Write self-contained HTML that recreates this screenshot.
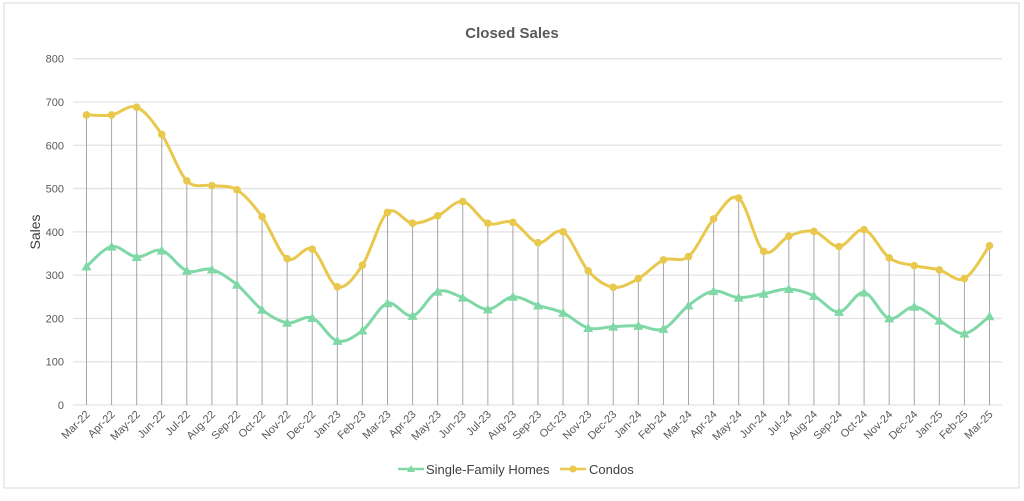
<!DOCTYPE html>
<html><head><meta charset="utf-8"><style>
body{margin:0;background:#fff;width:1024px;height:496px;overflow:hidden;font-family:"Liberation Sans",sans-serif}
</style></head><body>
<svg id="c" width="1024" height="496" xmlns="http://www.w3.org/2000/svg">
<rect x="4" y="3" width="1015" height="485" fill="#fff" stroke="#d9d9d9"/>
<text x="512" y="38" text-anchor="middle" font-size="15" font-weight="bold" fill="#595959">Closed Sales</text>
<text transform="translate(40,232) rotate(-90)" text-anchor="middle" font-size="14" fill="#404040">Sales</text>
<g id="grid"></g><g id="drops"></g><g id="lines"></g><g id="xt"></g>
<g>
<g><line x1="398" y1="469" x2="424" y2="469" stroke="#7fd8a6" stroke-width="2.5"/><polygon points="411,465 415,472 407,472" fill="#7fd8a6"/><text x="426" y="474" font-size="13" fill="#404040">Single-Family Homes</text></g>
<g><line x1="560" y1="469" x2="586" y2="469" stroke="#e9c84e" stroke-width="2.5"/><circle cx="573" cy="469" r="3.5" fill="#e9c84e"/><text x="589" y="474" font-size="13" fill="#404040">Condos</text></g>
</g>
</svg>
<script>
const categories=["Mar-22","Apr-22","May-22","Jun-22","Jul-22","Aug-22","Sep-22","Oct-22","Nov-22","Dec-22","Jan-23","Feb-23","Mar-23","Apr-23","May-23","Jun-23","Jul-23","Aug-23","Sep-23","Oct-23","Nov-23","Dec-23","Jan-24","Feb-24","Mar-24","Apr-24","May-24","Jun-24","Jul-24","Aug-24","Sep-24","Oct-24","Nov-24","Dec-24","Jan-25","Feb-25","Mar-25"];
const condos=[670,670,688,625,518,507,497,435,338,360,273,323,445,420,437,470,420,422,375,400,310,272,292,335,343,430,478,355,390,401,366,405,340,322,312,292,368];
const sfh=[320,366,342,357,310,313,278,220,190,201,148,172,235,206,262,248,221,250,230,213,178,181,183,176,230,263,248,257,268,252,215,260,200,227,195,165,205];
const yTicks=[0,100,200,300,400,500,600,700,800];
const NS="http://www.w3.org/2000/svg";
const X0=86.5,X1=989.5,Y0=405,Y1=58.7;
const xs=i=>X0+(X1-X0)*i/(categories.length-1);
const ys=v=>Y0-(Y0-Y1)*v/800;
function mk(t,a,p){const e=document.createElementNS(NS,t);for(const k in a)e.setAttribute(k,a[k]);p.appendChild(e);return e;}
const grid=document.getElementById('grid');
yTicks.forEach(t=>{
 const l=mk('line',{x1:73,x2:1002,y1:ys(t),y2:ys(t),stroke:'#e3e3e3','stroke-width':1.3},grid);
 
 
 const tx=mk('text',{x:64,y:ys(t)+4,'text-anchor':'end','font-size':11,fill:'#595959'},grid);
 tx.textContent=t;
 
 
});
const drops=document.getElementById('drops');
categories.forEach((c,i)=>{
 const l=mk('line',{x1:xs(i),x2:xs(i),y1:ys(Math.max(condos[i],sfh[i])),y2:Y0,stroke:'#a6a6a6','stroke-width':1},drops);
 
 
});
const xt=document.getElementById('xt');
categories.forEach((c,i)=>{
 const t=mk('text',{transform:`translate(${xs(i)+4},${Y0+10}) rotate(-45)`,'text-anchor':'end','font-size':11,fill:'#595959'},xt);
 t.textContent=c;
 
 
});
function path(vals){
 const p=vals.map((v,i)=>[xs(i),ys(v)]);let d=`M${p[0][0]},${p[0][1]}`;
 for(let i=0;i<p.length-1;i++){const a=p[Math.max(0,i-1)],b=p[i],c=p[i+1],e=p[Math.min(p.length-1,i+2)];const k=1/6;
  d+=` C${b[0]+(c[0]-a[0])*k},${b[1]+(c[1]-a[1])*k} ${c[0]-(e[0]-b[0])*k},${c[1]-(e[1]-b[1])*k} ${c[0]},${c[1]}`;}
 return d;
}
const lines=document.getElementById('lines');
const ps=mk('path',{d:path(sfh),fill:'none',stroke:'#7fd8a6','stroke-width':3},lines);


const pc=mk('path',{d:path(condos),fill:'none',stroke:'#e9c84e','stroke-width':3},lines);


sfh.forEach((v,i)=>{const x=xs(i),y=ys(v);
 const m=mk('polygon',{points:`${x},${y-5} ${x+5},${y+4} ${x-5},${y+4}`,fill:'#7fd8a6'},lines);
 
 });
condos.forEach((v,i)=>{
 const m=mk('circle',{cx:xs(i),cy:ys(v),r:3.8,fill:'#e9c84e'},lines);
 
 });
</script>
</body></html>
